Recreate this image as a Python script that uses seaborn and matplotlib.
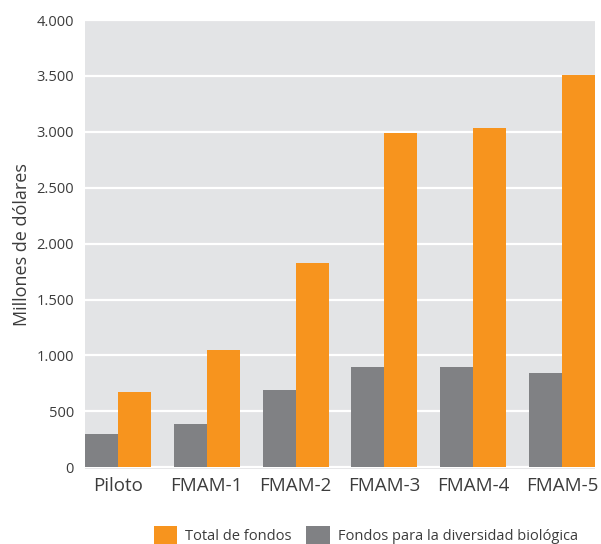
import matplotlib
matplotlib.use("Agg")
import matplotlib.pyplot as plt
import seaborn as sns
import pandas as pd
from matplotlib.patches import Patch

categories = ["Piloto", "FMAM-1", "FMAM-2", "FMAM-3", "FMAM-4", "FMAM-5"]
total_fondos = [670, 1045, 1830, 2990, 3030, 3510]
biodiversidad = [295, 390, 690, 900, 900, 840]
series_names = ["Fondos para la diversidad biológica", "Total de fondos"]
y_ticks = [0, 500, 1000, 1500, 2000, 2500, 3000, 3500, 4000]
y_ticklabels = ["0", "500", "1.000", "1.500", "2.000", "2.500", "3.000", "3.500", "4.000"]

df = pd.DataFrame({
    "cat": categories * 2,
    "serie": [series_names[0]] * len(categories) + [series_names[1]] * len(categories),
    "valor": biodiversidad + total_fondos,
})

orange = "#F7941E"
gray = "#808184"
bg = "#E3E4E6"
txt = "#3C3C3C"

sns.set_style("white")
plt.rcParams["font.family"] = ["Open Sans", "DejaVu Sans"]

fig = plt.figure(figsize=(6.01, 5.44), dpi=100)
ax = fig.add_axes([85 / 601, 1 - 469 / 544, 510 / 601, 449 / 544])
ax.set_facecolor(bg)

sns.barplot(data=df, x="cat", y="valor", hue="serie", hue_order=series_names,
            palette=[gray, orange], width=0.742, gap=0, saturation=1,
            errorbar=None, ax=ax, legend=False, zorder=3)
for p in ax.patches:
    p.set_edgecolor("none")
    p.set_linewidth(0)

ax.set_xlim(-0.371, len(categories) - 1 + 0.371)
ax.set_ylim(-15, 4000)
ax.set_yticks(y_ticks)
ax.set_yticklabels(y_ticklabels)
ax.yaxis.grid(True, color="white", linewidth=1.6, zorder=1)
ax.set_axisbelow(True)
for s in ax.spines.values():
    s.set_visible(False)
ax.tick_params(axis="both", length=0)
ax.tick_params(axis="y", labelsize=10.5, colors=txt, pad=8)
ax.tick_params(axis="x", labelsize=13.5, colors=txt, pad=6)
ax.set_xlabel("")
ax.set_ylabel("Millones de dólares", fontsize=13, color=txt, labelpad=4)

handles = [Patch(facecolor=orange, edgecolor="none"), Patch(facecolor=gray, edgecolor="none")]
fig.legend(handles, ["Total de fondos", "Fondos para la diversidad biológica"],
           loc="center", bbox_to_anchor=(366 / 601, 1 - 535 / 544), ncol=2,
           frameon=False, fontsize=10.5, handlelength=1.6, handleheight=1.5,
           handletextpad=0.55, columnspacing=1.0, labelcolor=txt)

fig.savefig("out.png", dpi=100)
